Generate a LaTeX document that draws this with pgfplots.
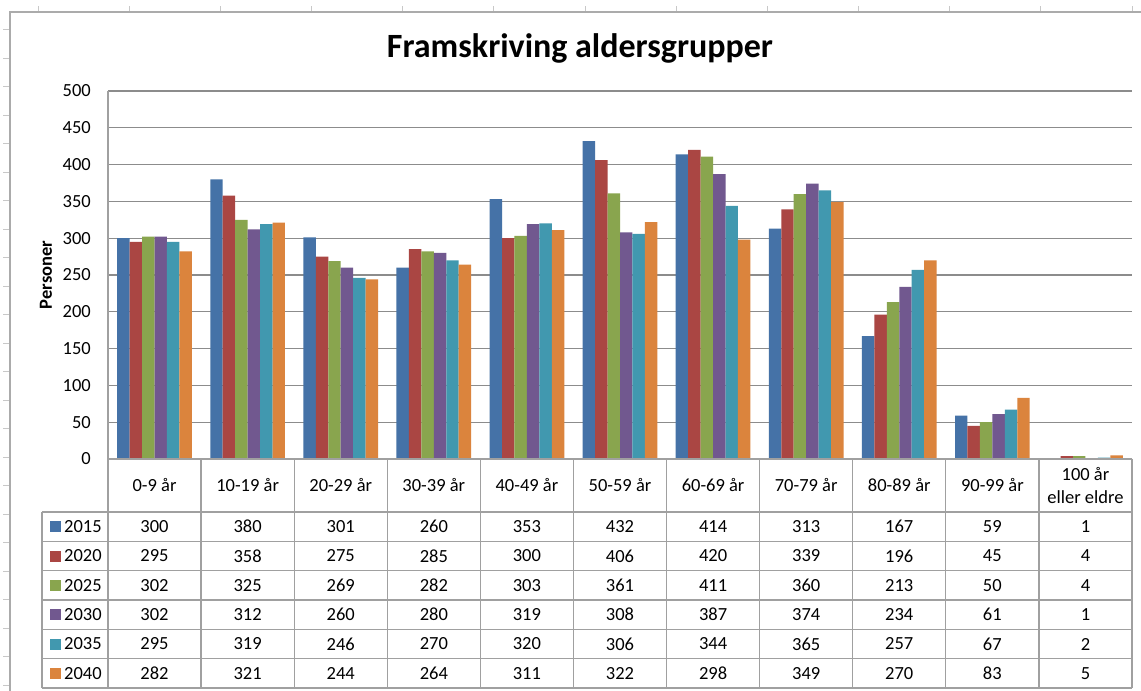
\documentclass[border=0pt]{standalone}
\usepackage{pgfplots}
\usepackage{pgfplotstable}
\pgfplotsset{compat=1.18}
\usepackage{fontspec}
\setmainfont{Carlito}
\definecolor{c1}{HTML}{4572A7}
\definecolor{c2}{HTML}{AA4643}
\definecolor{c3}{HTML}{89A54E}
\definecolor{c4}{HTML}{71588F}
\definecolor{c5}{HTML}{4198AF}
\definecolor{c6}{HTML}{DB843D}
\definecolor{gridc}{HTML}{8C8C8C}
\definecolor{tabc}{HTML}{A0A0A0}
\definecolor{framec}{HTML}{ABABAB}
\definecolor{tickc}{HTML}{C8C8C8}
\newcommand\tabfont{\fontsize{18.5}{23}\selectfont}

\pgfplotstableread{
x s2015 s2020 s2025 s2030 s2035 s2040
0 300 295 302 302 295 282
1 380 358 325 312 319 321
2 301 275 269 260 246 244
3 260 285 282 280 270 264
4 353 300 303 319 320 311
5 432 406 361 308 306 322
6 414 420 411 387 344 298
7 313 339 360 374 365 349
8 167 196 213 234 257 270
9 59 45 50 61 67 83
10 1 4 4 1 2 5
}\data

\begin{document}
\begin{tikzpicture}[x=1pt,y=1pt]
\useasboundingbox (0,0) rectangle (1141,691);
\fill[white] (0,0) rectangle (1141,691);
% spreadsheet remnants
\foreach \i in {0,...,12} \draw[tickc, line width=1pt] ({38+91.17*\i},679) -- ++(0,6);
\foreach \i in {0,...,23} \draw[tickc, line width=1pt] (3,{691-30-28.48*\i}) -- ++(6,0);
\draw[framec, line width=2pt] (10,0) -- (10,679) -- (1141,679);

\begin{axis}[
  at={(108pt,232pt)}, anchor=south west,
  scale only axis, width=1024pt, height=368pt,
  xmin=-0.5, xmax=10.5, ymin=0, ymax=500,
  axis line style={draw=none},
  xtick=\empty,
  ytick={0,50,...,500},
  major tick length=0pt,
  ymajorgrids, grid style={gridc, line width=1.2pt},
  /pgf/number format/assume math mode=true,
  yticklabel style={font=\tabfont, anchor=east, inner sep=0pt, xshift=-17pt},
  ybar=0pt, bar width=12.45pt,
  clip=false,
]
\addplot[fill=c1, draw=none] table[x=x, y=s2015] {\data};
\addplot[fill=c2, draw=none] table[x=x, y=s2020] {\data};
\addplot[fill=c3, draw=none] table[x=x, y=s2025] {\data};
\addplot[fill=c4, draw=none] table[x=x, y=s2030] {\data};
\addplot[fill=c5, draw=none] table[x=x, y=s2035] {\data};
\addplot[fill=c6, draw=none] table[x=x, y=s2040] {\data};
\end{axis}

% data table grid
\draw[tabc, line width=1.3pt] (108,232) -- (1132,232);
\foreach \r in {0,...,6} \draw[tabc, line width=1.3pt] (42,{691-512-29.33*\r}) -- (1132,{691-512-29.33*\r});
\draw[tabc, line width=1.3pt] (42,179) -- (42,{691-688});
\draw[tabc, line width=1.3pt] (108,600) -- (108,{691-688});
\foreach \k in {1,...,11} \draw[tabc, line width=1.3pt] ({108+93.0909*\k},232) -- ({108+93.0909*\k},{691-688});

% category labels
\foreach \r/\lab in {0/0-9 år,1/10-19 år,2/20-29 år,3/30-39 år,4/40-49 år,5/50-59 år,6/60-69 år,7/70-79 år,8/80-89 år,9/90-99 år}
  \node[font=\tabfont, inner sep=0pt] at ({108+93.0909*(\r+0.5)},{691-485.5}) {\lab};
\node[font=\tabfont, align=center, inner sep=0pt] at ({108+93.0909*10.5},{691-485.5}) {100 år\\eller eldre};

% table values
\foreach \r in {0,...,10}{
  \foreach \j in {1,...,6}{
    \pgfplotstablegetelem{\r}{[index]\j}\of\data
    \node[font=\tabfont, inner sep=0pt] at ({108+93.0909*(\r+0.5)},{691-526.7-29.33*(\j-1)}) {\pgfplotsretval};
  }
}

% legend keys
\foreach \j/\col in {0/c1,1/c2,2/c3,3/c4,4/c5,5/c6}{
  \pgfmathtruncatemacro\yr{2015+5*\j}
  \fill[\col] (50,{691-526.7-29.33*\j-5.5}) rectangle ++(11,11);
  \node[font=\tabfont, anchor=west, inner sep=0pt] at (64,{691-526.7-29.33*\j}) {\yr};
}

% titles
\node[font=\fontsize{34}{40}\selectfont\bfseries, anchor=base] at (580,{691-58}) {Framskriving aldersgrupper};
\node[rotate=90, font=\fontsize{18.5}{20}\selectfont\bfseries] at (46,416) {Personer};
\end{tikzpicture}
\end{document}
